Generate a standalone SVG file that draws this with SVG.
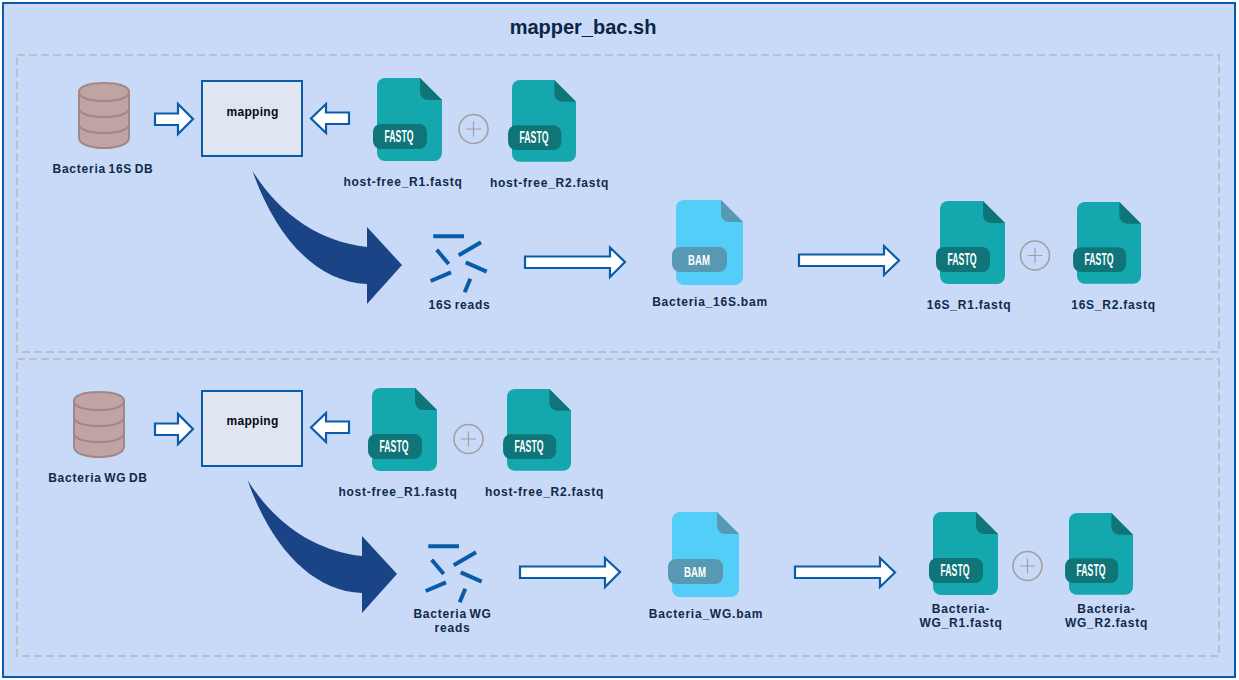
<svg xmlns="http://www.w3.org/2000/svg" width="1239" height="680" viewBox="0 0 1239 680">
<style>
.lbl{font:bold 12px "Liberation Sans",Arial,sans-serif;letter-spacing:.77px;word-spacing:-1.6px;fill:#0f2a4a;text-anchor:middle}
.map{font:bold 12px "Liberation Sans",Arial,sans-serif;letter-spacing:.3px;fill:#050a14;text-anchor:middle}
.tag{font:bold 16px "Liberation Sans Narrow","Liberation Sans",Arial,sans-serif;fill:#fff;text-anchor:middle}
.tagb{font:bold 14px "Liberation Sans Narrow","Liberation Sans",Arial,sans-serif;fill:#fff;text-anchor:middle}
.box{fill:#dfe6f2;stroke:#0a5ca8;stroke-width:2}
.frame{fill:none;stroke:#b9c1cb;stroke-width:2;stroke-dasharray:8 4}
.blk{fill:#fff;stroke:#0a5ca8;stroke-width:2.2}
.sweep{fill:#1b4487}
.read{stroke:#0a5ca8;stroke-width:4;fill:none}
</style>
<defs>
<g id="fastq"><path d="M8 0H43L65 22V75a8 8 0 0 1-8 8H8a8 8 0 0 1-8-8V8a8 8 0 0 1 8-8Z" fill="#14a8ae"/><path d="M43 0L65 22H51a8 8 0 0 1-8-8Z" fill="#0f7579"/><rect x="-4" y="46" width="54" height="25" rx="8" fill="#0f7579"/></g>
<g id="bam"><path d="M8 0H45L67 22V77a8 8 0 0 1-8 8H8a8 8 0 0 1-8-8V8a8 8 0 0 1 8-8Z" fill="#53cef8"/><path d="M45 0L67 22H53a8 8 0 0 1-8-8Z" fill="#5799b2"/><rect x="-4" y="47" width="55" height="25" rx="8" fill="#5799b2"/></g>
<g id="db"><path d="M0 9C0 3 11 0 25 0S50 3 50 9V55C50 61 39 65 25 65S0 61 0 55Z" fill="#c0a3a3" stroke="#a38787" stroke-width="2"/><path d="M0 9C0 15 11 18 25 18S50 15 50 9M0 25C0 31 11 34 25 34S50 31 50 25M0 41C0 47 11 50 25 50S50 47 50 41" fill="none" stroke="#a38787" stroke-width="2"/></g>
<g id="plus"><circle r="14.5" fill="none" stroke="#a0a0a0" stroke-width="1.6"/><path d="M-7.500 0H7.500M0-7.500V7.500" stroke="#a0a0a0" stroke-width="1.2"/></g>
<g id="reads"><path class="read" d="M433.3 236.3H464M436.7 249.7L448.7 264M458.7 255.3L481 242.3M465.7 262.3L486.7 271.7M430.7 281L451 272.3M464.7 292.3L470.3 278.7"/></g>
<path id="sweep" class="sweep" d="M252.500 171C280 215 320 242 367 247V227L402 265L367 304V284C315 282 275 235 252.500 171Z"/>
</defs>
<rect x="3" y="3" width="1232" height="674" fill="#c9daf8" stroke="#0a5ca8" stroke-width="2"/>
<text x="583" y="34" font-family="Liberation Sans,Arial,sans-serif" font-size="20" font-weight="bold" fill="#0b2545" text-anchor="middle">mapper_bac.sh</text>
<rect id="section-16s" class="frame" x="17" y="55" width="1202" height="297"/>
<rect id="section-wg" class="frame" x="17" y="359" width="1202" height="297"/>
<g id="connectors">
<path class="blk" d="M155 113.500H178V104L193 119L178 134V125H155Z"/>
<path class="blk" d="M349 112.500H326V104L311 118.500L326 133V124H349Z"/>
<use href="#sweep"/>
<path class="blk" d="M525 256.500H610V247.500L625 262L610 277V268H525Z"/>
<path class="blk" d="M799 254.500H884V246L899 260.500L884 275V266H799Z"/>
<path class="blk" d="M155 423.500H178V414L193 429L178 444V435H155Z"/>
<path class="blk" d="M349 421.500H326V413L311 427.500L326 442V433H349Z"/>
<use href="#sweep" x="-5" y="309"/>
<path class="blk" d="M520 566.500H605V558L620 572L605 587V578H520Z"/>
<path class="blk" d="M795 566.500H880V558L895 572.500L880 587V578H795Z"/>
</g>
<g id="db-16s"><use href="#db" x="79" y="83"/><text class="lbl" x="103" y="173">Bacteria 16S DB</text></g>
<g id="mapping-16s"><rect class="box" x="202" y="81" width="100" height="75"/><text class="map" x="252.500" y="116">mapping</text></g>
<g id="r1-16s-in"><use href="#fastq" x="377" y="78"/><text class="tag" x="399" y="142" textLength="29" lengthAdjust="spacingAndGlyphs">FASTQ</text><text class="lbl" x="403" y="186">host-free_R1.fastq</text></g>
<g id="plus-1"><use href="#plus" x="473.500" y="129"/></g>
<g id="r2-16s-in"><use href="#fastq" transform="translate(512 80) scale(.985)"/><text class="tag" x="534" y="143" textLength="29" lengthAdjust="spacingAndGlyphs">FASTQ</text><text class="lbl" x="549.500" y="187">host-free_R2.fastq</text></g>
<g id="reads-16s"><use href="#reads"/><text class="lbl" x="459.500" y="309">16S reads</text></g>
<g id="bam-16s"><use href="#bam" x="676" y="200"/><text class="tagb" x="699" y="265" textLength="22" lengthAdjust="spacingAndGlyphs">BAM</text><text class="lbl" x="710" y="306">Bacteria_16S.bam</text></g>
<g id="r1-16s-out"><use href="#fastq" x="940" y="201"/><text class="tag" x="962" y="265" textLength="29" lengthAdjust="spacingAndGlyphs">FASTQ</text><text class="lbl" x="969" y="309">16S_R1.fastq</text></g>
<g id="plus-2"><use href="#plus" x="1035" y="255.500"/></g>
<g id="r2-16s-out"><use href="#fastq" transform="translate(1077 202) scale(.985)"/><text class="tag" x="1099" y="265" textLength="29" lengthAdjust="spacingAndGlyphs">FASTQ</text><text class="lbl" x="1113.500" y="309">16S_R2.fastq</text></g>
<g id="db-wg"><use href="#db" x="74" y="392"/><text class="lbl" x="98" y="482">Bacteria WG DB</text></g>
<g id="mapping-wg"><rect class="box" x="202" y="391" width="100" height="75"/><text class="map" x="252.500" y="425">mapping</text></g>
<g id="r1-wg-in"><use href="#fastq" x="372" y="388"/><text class="tag" x="394" y="452" textLength="29" lengthAdjust="spacingAndGlyphs">FASTQ</text><text class="lbl" x="398" y="496">host-free_R1.fastq</text></g>
<g id="plus-3"><use href="#plus" x="468.500" y="439"/></g>
<g id="r2-wg-in"><use href="#fastq" transform="translate(507 389) scale(.985)"/><text class="tag" x="529" y="452" textLength="29" lengthAdjust="spacingAndGlyphs">FASTQ</text><text class="lbl" x="544.500" y="496">host-free_R2.fastq</text></g>
<g id="reads-wg"><use href="#reads" x="-5" y="310"/><text class="lbl" x="452.500" y="618">Bacteria WG</text><text class="lbl" x="452.500" y="632">reads</text></g>
<g id="bam-wg"><use href="#bam" x="672" y="512"/><text class="tagb" x="695" y="577" textLength="22" lengthAdjust="spacingAndGlyphs">BAM</text><text class="lbl" x="706" y="618">Bacteria_WG.bam</text></g>
<g id="r1-wg-out"><use href="#fastq" x="933" y="512"/><text class="tag" x="955" y="576" textLength="29" lengthAdjust="spacingAndGlyphs">FASTQ</text><text class="lbl" x="961" y="613">Bacteria-</text><text class="lbl" x="961" y="627">WG_R1.fastq</text></g>
<g id="plus-4"><use href="#plus" x="1027.500" y="566"/></g>
<g id="r2-wg-out"><use href="#fastq" transform="translate(1069 513) scale(.985)"/><text class="tag" x="1091" y="576" textLength="29" lengthAdjust="spacingAndGlyphs">FASTQ</text><text class="lbl" x="1106.500" y="613">Bacteria-</text><text class="lbl" x="1106.500" y="627">WG_R2.fastq</text></g>
</svg>
